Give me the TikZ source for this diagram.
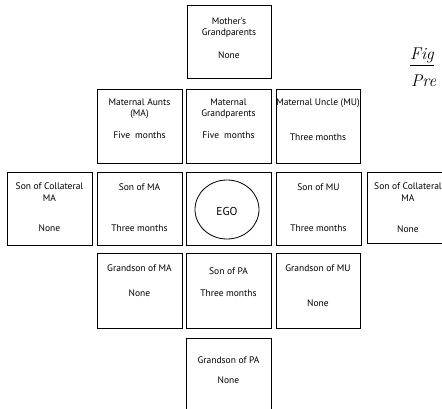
\documentclass[tikz,border=0pt]{standalone}
\usepackage{fontspec}
\setsansfont{PT Sans}
\tikzset{
  kinbox/.style={draw, line width=0.8pt, minimum width=85pt, minimum height=74pt, inner sep=0pt},
  kintext/.style={font=\sffamily\fontsize{9.5}{11}\selectfont, inner sep=0pt},
}
\begin{document}
\begin{tikzpicture}[x=1pt,y=-1pt]
\useasboundingbox (0,0) rectangle (442,409);
\clip (0,0) rectangle (442,409);
% boxes
\node [kinbox, minimum width=84pt, minimum height=73pt] (mgp) at (229,41.5) {};
\node [kinbox] (ma) at (139.5,126) {};
\node [kinbox] (mg) at (228.5,126) {};
\node [kinbox, minimum width=84pt] (mu) at (318,126) {};
\node [kinbox, minimum height=73pt] (scl) at (49.5,208.5) {};
\node [kinbox, minimum height=73pt] (sma) at (139.5,208.5) {};
\node [kinbox, minimum height=73pt] (ego) at (228.5,208.5) {};
\node [kinbox, minimum height=73pt] (smu) at (318.5,208.5) {};
\node [kinbox, minimum height=71pt] (scr) at (409.5,207.5) {};
\node [kinbox, minimum height=75pt] (gma) at (139.5,290.5) {};
\node [kinbox, minimum height=75pt] (spa) at (228.5,290.5) {};
\node [kinbox, minimum width=84pt, minimum height=75pt] (gmu) at (318,290.5) {};
\node [kinbox, minimum height=75pt] (gpa) at (228.5,375.5) {};
\draw [line width=0.8pt] (227,209.5) ellipse (32pt and 29.5pt);
% texts
\node [kintext] (mgp1) at (229,21) {Mother’s};
\node [kintext] (mgp2) at (229,33) {Grandparents};
\node [kintext] (mgp3) at (229,55) {None};
\node [kintext] (ma1) at (139.5,102) {Maternal Aunts};
\node [kintext] (ma2) at (139.5,114) {(MA)};
\node [kintext] (ma3) at (139.5,135) {Five\ \ months};
\node [kintext] (mg1) at (228.5,102) {Maternal};
\node [kintext] (mg2) at (228.5,114) {Grandparents};
\node [kintext] (mg3) at (228.5,135) {Five\ \ months};
\node [kintext] (mu1) at (318,103) {Maternal Uncle (MU)};
\node [kintext] (mu2) at (318,137) {Three months};
\node [kintext] (scl1) at (49.5,186) {Son of Collateral};
\node [kintext] (scl2) at (49.5,198) {MA};
\node [kintext] (scl3) at (49.5,228) {None};
\node [kintext] (sma1) at (139.5,187) {Son of MA};
\node [kintext] (sma2) at (139.5,228) {Three months};
\node [kintext, font=\sffamily\fontsize{11.5}{13}\selectfont] (ego1) at (227,211) {EGO};
\node [kintext] (smu1) at (318.5,187) {Son of MU};
\node [kintext] (smu2) at (318.5,228) {Three months};
\node [kintext] (scr1) at (408,186) {Son of Collateral};
\node [kintext] (scr2) at (408,198) {MA};
\node [kintext] (scr3) at (408,229) {None};
\node [kintext] (gma1) at (139.5,268) {Grandson of MA};
\node [kintext] (gma2) at (139.5,293) {None};
\node [kintext] (spa1) at (228.5,271) {Son of PA};
\node [kintext] (spa2) at (228.5,293) {Three months};
\node [kintext] (gmu1) at (318,268) {Grandson of MU};
\node [kintext] (gmu2) at (318,303) {None};
\node [kintext] (gpa1) at (228.5,360) {Grandson of PA};
\node [kintext] (gpa2) at (228.5,380) {None};
% caption
\node [anchor=base west, inner sep=0pt, font=\itshape\fontsize{17}{20}\selectfont] (fig) at (410,60) {\underline{Fig}};
\node [anchor=base west, inner sep=0pt, font=\itshape\fontsize{17}{20}\selectfont] (pre) at (411,87) {Pre};
\end{tikzpicture}
\end{document}
